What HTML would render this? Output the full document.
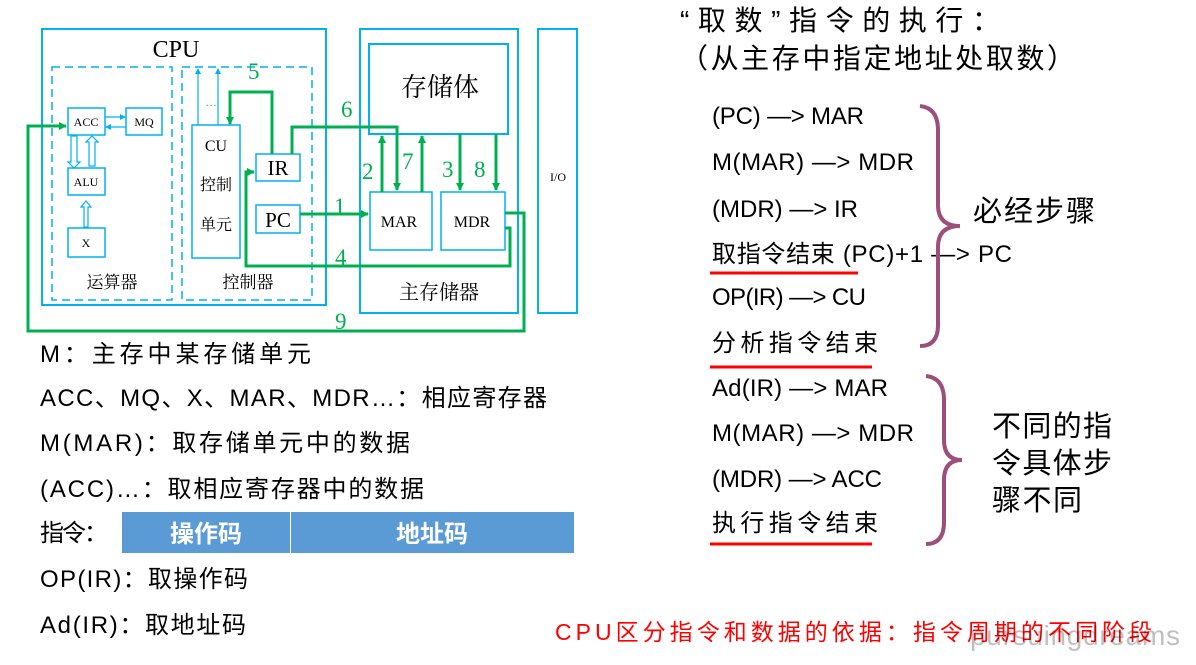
<!DOCTYPE html>
<html><head><meta charset="utf-8"><style>
body{margin:0;background:#fff}
svg text{font-family:"Liberation Sans","Noto Sans CJK SC",sans-serif}
.s{font-family:"Liberation Serif","Noto Serif CJK SC",serif}
</style></head><body>
<svg width="1196" height="660" xmlns="http://www.w3.org/2000/svg">
<defs>
<marker id="g" markerWidth="8" markerHeight="8" refX="7" refY="4" orient="auto" markerUnits="userSpaceOnUse"><path d="M0,0 L8,4 L0,8 z" fill="#00b050"/></marker>
<marker id="b" markerWidth="6" markerHeight="6" refX="5" refY="3" orient="auto" markerUnits="userSpaceOnUse"><path d="M0,0 L6,3 L0,6 z" fill="#00b0f0"/></marker>
</defs>
<g fill="none" stroke="#00b0f0" stroke-width="2">
<rect x="42" y="29" width="284" height="276"/>
<rect x="360" y="29" width="158" height="284"/>
<rect x="369" y="44" width="139" height="90"/>
<rect x="538" y="29" width="39" height="284"/>
</g>
<g fill="none" stroke="#00b0f0" stroke-width="1.5" stroke-dasharray="8,5">
<rect x="52" y="67" width="120" height="233"/>
<rect x="182" y="67" width="130" height="233"/>
</g>
<g fill="#fff" stroke="#00b0f0" stroke-width="1.5">
<rect x="68" y="108" width="37" height="27"/>
<rect x="126" y="108" width="36" height="27"/>
<rect x="68" y="168" width="37" height="27"/>
<rect x="68" y="228" width="37" height="29"/>
<rect x="192" y="125" width="48" height="133"/>
<rect x="256" y="154" width="44" height="27"/>
<rect x="256" y="205" width="44" height="28"/>
<rect x="370" y="192" width="62" height="58"/>
<rect x="441" y="192" width="64" height="58"/>
</g>
<g stroke="#00b0f0" stroke-width="1.2" fill="none">
<line x1="105" y1="117" x2="125" y2="117" marker-end="url(#b)"/>
<line x1="126" y1="127" x2="106" y2="127" marker-end="url(#b)"/>
<line x1="198" y1="125" x2="198" y2="69" marker-end="url(#b)"/>
<line x1="218" y1="125" x2="218" y2="69" marker-end="url(#b)"/>
<path d="M71,136 v26 h-3 l6,6 l6,-6 h-3 v-26 z"/>
<path d="M89,166 v-24 h-3 l6,-6 l6,6 h-3 v24 z"/>
<path d="M84,227 v-20 h-3 l5,-6 l5,6 h-3 v20 z"/>
</g>
<text x="205" y="106" font-size="12" fill="#00b0f0">…</text>
<g class="s" fill="#000" text-anchor="middle">
<text x="176" y="57" font-size="24" class="s">CPU</text>
<text x="86" y="126" font-size="12" class="s">ACC</text>
<text x="144" y="126" font-size="12" class="s">MQ</text>
<text x="86" y="186" font-size="12" class="s">ALU</text>
<text x="86" y="247" font-size="12" class="s">X</text>
<text x="216" y="151" font-size="16" class="s">CU</text>
<text x="216" y="190" font-size="16" class="s">控制</text>
<text x="216" y="230" font-size="16" class="s">单元</text>
<text x="278" y="175" font-size="21" class="s">IR</text>
<text x="278" y="227" font-size="21" class="s">PC</text>
<text x="399" y="227" font-size="16" class="s">MAR</text>
<text x="472" y="227" font-size="16" class="s">MDR</text>
<text x="440" y="96" font-size="26" class="s">存储体</text>
<text x="112" y="288" font-size="17" class="s">运算器</text>
<text x="248" y="288" font-size="17" class="s">控制器</text>
<text x="439" y="299" font-size="20" class="s">主存储器</text>
<text x="558" y="181" font-size="12" class="s">I/O</text>
</g>
<g stroke="#00b050" stroke-width="3" fill="none">
<path d="M505,213 H524 V331 H28 V126 H66" marker-end="url(#g)"/>
<path d="M505,228 H510 V266 H246 V172 H254" marker-end="url(#g)"/>
<path d="M300,214 H368" marker-end="url(#g)"/>
<path d="M292,154 V127 H397 V190" marker-end="url(#g)"/>
<path d="M382,192 V136" marker-end="url(#g)"/>
<path d="M422,192 V136" marker-end="url(#g)"/>
<path d="M460,134 V190" marker-end="url(#g)"/>
<path d="M496,134 V190" marker-end="url(#g)"/>
<path d="M272,154 V92 H230 V124" marker-end="url(#g)"/>
</g>
<g class="s" fill="#00b050" font-size="23">
<text x="248" y="79" class="s">5</text>
<text x="341" y="117" class="s">6</text>
<text x="362" y="179" class="s">2</text>
<text x="402" y="169" class="s">7</text>
<text x="442" y="177" class="s">3</text>
<text x="474" y="177" class="s">8</text>
<text x="334" y="214" class="s">1</text>
<text x="335" y="265" class="s">4</text>
<text x="335" y="329" class="s">9</text>
</g>
<g font-size="24" fill="#000" lengthAdjust="spacingAndGlyphs">
<text x="40" y="362" textLength="271">M：主存中某存储单元</text>
<text x="40" y="406" textLength="507">ACC、MQ、X、MAR、MDR…：相应寄存器</text>
<text x="40" y="451" textLength="370">M(MAR)：取存储单元中的数据</text>
<text x="40" y="497" textLength="384">(ACC)…：取相应寄存器中的数据</text>
<text x="40" y="541" textLength="68">指令：</text>
<text x="40" y="587" textLength="208">OP(IR)：取操作码</text>
<text x="40" y="633" textLength="206">Ad(IR)：取地址码</text>
</g>
<rect x="122" y="512" width="168" height="41" fill="#5b9bd5"/>
<rect x="291" y="512" width="283" height="41" fill="#5b9bd5"/>
<text x="206" y="542" font-size="24" font-weight="bold" fill="#fff" text-anchor="middle">操作码</text>
<text x="432" y="542" font-size="24" font-weight="bold" fill="#fff" text-anchor="middle">地址码</text>
<g font-size="28" fill="#000">
<text x="680" y="30" textLength="320">“取数”指令的执行：</text>
<text x="680" y="68" textLength="395">（从主存中指定地址处取数）</text>
</g>
<g font-size="24" fill="#000">
<text x="712" y="124" textLength="152">(PC) —&gt; MAR</text>
<text x="712" y="170" textLength="202">M(MAR) —&gt; MDR</text>
<text x="712" y="217" textLength="146">(MDR) —&gt; IR</text>
<text x="712" y="262" textLength="300">取指令结束 (PC)+1 —&gt; PC</text>
<text x="712" y="305" textLength="154">OP(IR) —&gt; CU</text>
<text x="712" y="351" textLength="166">分析指令结束</text>
<text x="712" y="396" textLength="176">Ad(IR) —&gt; MAR</text>
<text x="712" y="441" textLength="202">M(MAR) —&gt; MDR</text>
<text x="712" y="487" textLength="170">(MDR) —&gt; ACC</text>
<text x="712" y="531" textLength="166">执行指令结束</text>
</g>
<g stroke="#ff0000" stroke-width="3">
<line x1="710" y1="273" x2="858" y2="273"/>
<line x1="710" y1="367" x2="872" y2="367"/>
<line x1="710" y1="544" x2="872" y2="544"/>
</g>
<g stroke="#9b4f7a" stroke-width="4" fill="none">
<path d="M920,106 Q938,108 938,130 V205 Q938,226 960,226 Q938,226 938,247 V325 Q938,346 920,346"/>
<path d="M926,376 Q944,378 944,400 V440 Q944,460 962,460 Q944,460 944,480 V522 Q944,544 926,544"/>
</g>
<g font-size="29" fill="#000">
<text x="973" y="221" textLength="122">必经步骤</text>
<text x="992" y="436" textLength="120">不同的指</text>
<text x="992" y="473" textLength="120">令具体步</text>
<text x="992" y="510" textLength="90">骤不同</text>
</g>
<text x="555" y="640" font-size="23" fill="#ff0000" textLength="597">CPU区分指令和数据的依据：指令周期的不同阶段</text>
<text x="970" y="645" font-size="28" fill="#000" fill-opacity="0.25" textLength="210">pursuingdreams</text>
</svg>
</body></html>
